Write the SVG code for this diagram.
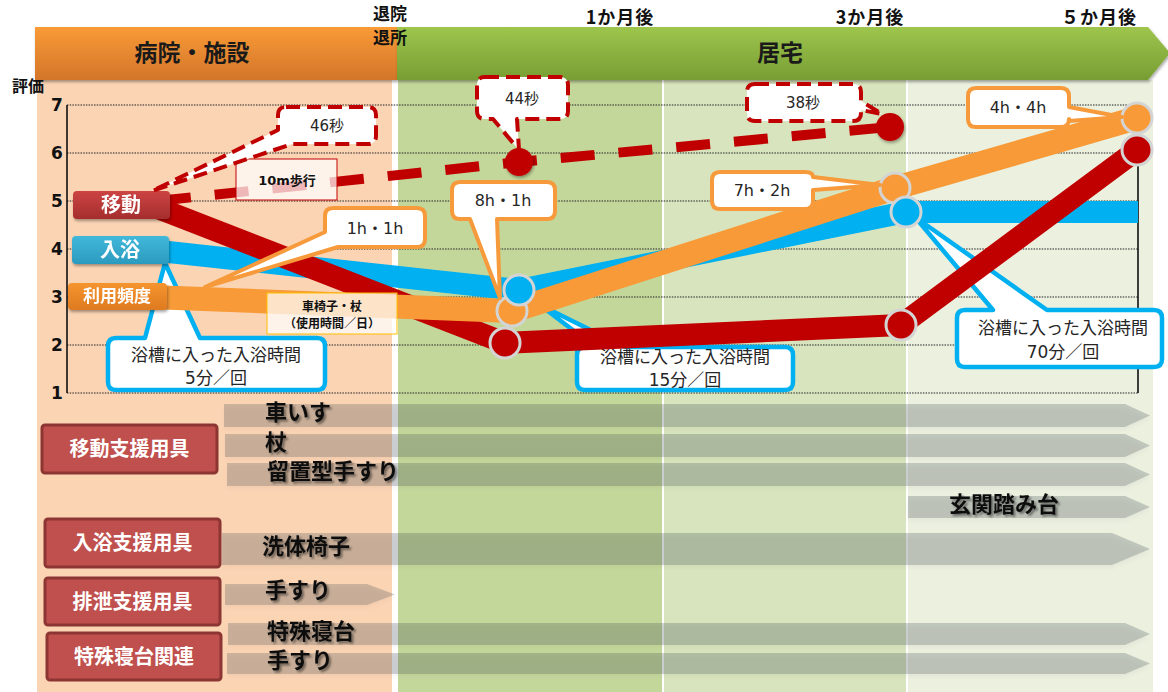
<svg xmlns="http://www.w3.org/2000/svg" width="1168" height="692" viewBox="0 0 1168 692">
<defs>
<linearGradient id="gOr" x1="0" y1="0" x2="0" y2="1"><stop offset="0" stop-color="#F99B36"/><stop offset="1" stop-color="#D3752A"/></linearGradient>
<linearGradient id="gGr" x1="0" y1="0" x2="0" y2="1"><stop offset="0" stop-color="#9EC54D"/><stop offset="1" stop-color="#779E33"/></linearGradient>
<linearGradient id="gRed" x1="0" y1="0" x2="0" y2="1"><stop offset="0" stop-color="#CC4443"/><stop offset="1" stop-color="#A52D2D"/></linearGradient>
<linearGradient id="gBlu" x1="0" y1="0" x2="0" y2="1"><stop offset="0" stop-color="#41B8DA"/><stop offset="1" stop-color="#2B9BBF"/></linearGradient>
<linearGradient id="gOr2" x1="0" y1="0" x2="0" y2="1"><stop offset="0" stop-color="#F5952F"/><stop offset="1" stop-color="#DE7A20"/></linearGradient>
<filter id="sh" x="-10%" y="-20%" width="120%" height="160%"><feDropShadow dx="1" dy="2" stdDeviation="1.5" flood-color="#000" flood-opacity="0.35"/></filter>
<filter id="tsh" x="-10%" y="-20%" width="130%" height="160%"><feDropShadow dx="2" dy="2" stdDeviation="1.2" flood-color="#000" flood-opacity="0.45"/></filter>
<filter id="ash" x="-2%" y="-30%" width="104%" height="180%"><feDropShadow dx="0" dy="3" stdDeviation="2" flood-color="#000" flood-opacity="0.15"/></filter>
<style>
.jp{font-family:"Noto Sans CJK JP","Noto Sans CJK SC",sans-serif}
.num{font-family:"DejaVu Sans","Noto Sans CJK JP",sans-serif}
.b{font-weight:bold}
.grid{stroke:#222;stroke-width:1;stroke-dasharray:1.5 1.2;fill:none}
.ax{stroke:#111;stroke-width:1.6;fill:none}
.yl{font-family:"DejaVu Sans",sans-serif;font-weight:bold;font-size:17px;fill:#111;text-anchor:middle}
.cob{fill:#fff;stroke:#00B0F0;stroke-width:4.5;stroke-linejoin:round}
.coo{fill:#fff;stroke:#F79A3B;stroke-width:4;stroke-linejoin:round}
.cor{fill:#fff;stroke:#C00000;stroke-width:4;stroke-dasharray:14 7;stroke-linejoin:round}
.ct{font-size:17px;fill:#262626;text-anchor:middle}
.ct2{font-size:16px;fill:#262626;text-anchor:middle}
.ct3{font-size:15px;fill:#262626;text-anchor:middle}
.ln{fill:none;stroke-linejoin:round;stroke-linecap:butt}
.cr{fill:#C00000;stroke:#D4D4D4;stroke-width:3}
.co{fill:#F79A37;stroke:#D4D4D4;stroke-width:3}
.cb{fill:#00B0F0;stroke:#D4D4D4;stroke-width:3}
.cat{fill:#C0504D;stroke:#8C3533;stroke-width:3}
.catt{font-size:20px;font-weight:bold;fill:#fff;text-anchor:middle}
.arr{fill:#334248;fill-opacity:0.23}
.at{font-size:22px;font-weight:bold;fill:#111}
.mt{font-size:18px;font-weight:bold;fill:#111;text-anchor:middle;letter-spacing:1px}
</style>
</defs>

<!-- background panels -->
<g id="panels">
<rect x="37" y="80" width="355" height="612" fill="#FBD4B4"/>
<rect x="398" y="80" width="264" height="612" fill="#C4D79B"/>
<rect x="664" y="80" width="242" height="612" fill="#D8E4BD"/>
<rect x="908" y="80" width="245" height="612" fill="#EBF0DF"/>
</g>

<!-- header -->
<g id="header">
<g id="hospital" filter="url(#sh)"><rect x="35" y="27" width="362" height="53" fill="url(#gOr)"/></g>
<text class="jp b" x="192" y="61" font-size="23" text-anchor="middle" fill="#1a1a1a">病院・施設</text>
<g id="home" filter="url(#sh)"><polygon points="397,27 1148,27 1170,53 1148,80 397,80" fill="url(#gGr)"/></g>
<text class="jp b" x="780" y="61" font-size="23" text-anchor="middle" fill="#1a1a1a">居宅</text>
<text class="jp b" x="390" y="20" font-size="17" text-anchor="middle" fill="#111">退院</text>
<text class="jp b" x="390" y="44" font-size="17" text-anchor="middle" fill="#111">退所</text>
<text class="jp mt" x="620" y="24">1か月後</text>
<text class="jp mt" x="870" y="24">3か月後</text>
<text class="jp mt" x="1099" y="24">５か月後</text>
<text class="jp b" x="28" y="92" font-size="16" text-anchor="middle" fill="#111">評価</text>
</g>

<!-- grid & axes -->
<g id="axes">
<path class="grid" d="M67,105H1138M67,153H1138M67,201H1138M67,249H1138M67,297H1138M67,345H1138M67,393H1138"/>
<path class="ax" d="M67,105V393M1138,105V393"/>
<text class="yl" x="57" y="111">7</text>
<text class="yl" x="57" y="159">6</text>
<text class="yl" x="57" y="207">5</text>
<text class="yl" x="57" y="255">4</text>
<text class="yl" x="57" y="303">3</text>
<text class="yl" x="57" y="351">2</text>
<text class="yl" x="57" y="399">1</text>
</g>

<!-- blue callouts (behind lines) -->
<g id="callout-bath5">
<path class="cob" d="M116,338H145L165,263L200,338H317Q325,338 325,346V382Q325,390 317,390H116Q108,390 108,382V346Q108,338 116,338Z"/>
<text class="num ct" x="216" y="361">浴槽に入った入浴時間</text>
<text class="num ct" x="216" y="384">5分／回</text>
</g>
<g id="callout-bath15">
<path class="cob" d="M585,347H595L540,305L625,347H785Q793,347 793,355V382Q793,390 785,390H585Q577,390 577,382V355Q577,347 585,347Z"/>
<text class="num ct" x="685" y="363">浴槽に入った入浴時間</text>
<text class="num ct" x="685" y="386">15分／回</text>
</g>
<g id="callout-bath70">
<path class="cob" d="M965,310H993L915,217L1047,310H1154Q1162,310 1162,318V359Q1162,367 1154,367H965Q957,367 957,359V318Q957,310 965,310Z"/>
<text class="num ct" x="1063" y="334">浴槽に入った入浴時間</text>
<text class="num ct" x="1063" y="358">70分／回</text>
</g>

<!-- connectors / data lines -->
<g id="connectors">
<polyline class="ln" points="150,250 519,290 906,212 1138,212" stroke="#00B0F0" stroke-width="22"/>
<polyline class="ln" points="150,205 505,343 901,325 1137,150" stroke="#C00000" stroke-width="22"/>
<polyline class="ln" points="150,297 512,311 895,188 1137,118" stroke="#F79A37" stroke-width="24"/>
<polyline class="ln" points="157,201 519,162 890,127" stroke="#C00000" stroke-width="10" stroke-dasharray="34 24"/>
</g>

<!-- points -->
<g id="points">
<circle class="co" cx="512" cy="311" r="15"/>
<circle class="co" cx="895" cy="188" r="15"/>
<circle class="co" cx="1137" cy="118" r="15"/>
<circle class="cr" cx="505" cy="343" r="15"/>
<circle class="cr" cx="901" cy="325" r="15"/>
<circle class="cr" cx="1137" cy="150" r="15"/>
<circle class="cb" cx="519" cy="290" r="15"/>
<circle class="cb" cx="906" cy="212" r="15"/>
<g filter="url(#sh)">
<circle cx="519" cy="162" r="14" fill="#C00000"/>
<circle cx="890" cy="127" r="14" fill="#C00000"/>
</g>
</g>

<!-- series labels -->
<g id="label-move" filter="url(#sh)">
<rect x="73" y="191" width="97" height="28" rx="4" fill="url(#gRed)"/>
<text class="jp b" x="121" y="212" font-size="20" text-anchor="middle" fill="#fff">移動</text>
</g>
<g id="label-bath" filter="url(#sh)">
<rect x="72" y="236" width="97" height="28" rx="4" fill="url(#gBlu)"/>
<text class="jp b" x="120" y="257" font-size="20" text-anchor="middle" fill="#fff">入浴</text>
</g>
<g id="label-freq" filter="url(#sh)">
<rect x="68" y="283" width="99" height="27" rx="4" fill="url(#gOr2)"/>
<text class="jp b" x="117" y="302" font-size="17" text-anchor="middle" fill="#fff">利用頻度</text>
</g>
<g id="label-10m">
<rect x="236" y="159" width="101" height="41" fill="#fff" fill-opacity="0.72" stroke="#C00000" stroke-width="1"/>
<text class="num b" x="287" y="185" font-size="13" text-anchor="middle" fill="#111">10m歩行</text>
</g>
<g id="label-wheelchair">
<rect x="267" y="293" width="130" height="41" fill="#fff" fill-opacity="0.72" stroke="#FFC000" stroke-width="1"/>
<text class="jp b" x="332" y="311" font-size="12" text-anchor="middle" fill="#111">車椅子・杖</text>
<text class="jp b" x="332" y="328" font-size="12" text-anchor="middle" fill="#111">（使用時間／日）</text>
</g>

<!-- orange callouts -->
<g id="callout-1h">
<path class="coo" d="M333,208H417Q425,208 425,216V239Q425,247 417,247H338L205,287L325,232V216Q325,208 333,208Z"/>
<text class="num ct2" x="375" y="234">1h・1h</text>
</g>
<g id="callout-8h">
<path class="coo" d="M460,182H547Q555,182 555,190V211Q555,219 547,219H497L500,298L470,219H460Q452,219 452,211V190Q452,182 460,182Z"/>
<text class="num ct2" x="503" y="206">8h・1h</text>
</g>
<g id="callout-7h">
<path class="coo" d="M720,172H805Q813,172 813,177L880,185L813,190V201Q813,209 805,209H720Q712,209 712,201V180Q712,172 720,172Z"/>
<text class="num ct2" x="762" y="196">7h・2h</text>
</g>
<g id="callout-4h">
<path class="coo" d="M976,88H1061Q1069,88 1069,96V107L1122,117L1069,121V119Q1069,127 1061,127H976Q968,127 968,119V96Q968,88 976,88Z"/>
<text class="num ct2" x="1018" y="113">4h・4h</text>
</g>

<!-- red dashed callouts -->
<g id="callout-46">
<path class="cor" d="M286,107H368Q376,107 376,115V136Q376,144 368,144H292L152,191L278,130V115Q278,107 286,107Z"/>
<text class="num ct3" x="327" y="131">46秒</text>
</g>
<g id="callout-44">
<path class="cor" d="M485,77H560Q568,77 568,85V111Q568,119 560,119H517L519,150L493,119H485Q477,119 477,111V85Q477,77 485,77Z"/>
<text class="num ct3" x="522" y="104">44秒</text>
</g>
<g id="callout-38">
<path class="cor" d="M755,84H853Q861,84 861,92V101L882,114L861,110V113Q861,121 853,121H755Q747,121 747,113V92Q747,84 755,84Z"/>
<text class="num ct3" x="803" y="108">38秒</text>
</g>

<!-- bottom: equipment arrows -->
<g id="equipment-arrows" filter="url(#ash)">
<polygon class="arr" points="224,404 1125,404 1150,415.5 1125,427 224,427"/>
<polygon class="arr" points="225,434 1125,434 1150,445.5 1125,457 225,457"/>
<polygon class="arr" points="227,463 1125,463 1150,474.5 1125,486 227,486"/>
<polygon class="arr" points="908,496 1125,496 1150,507 1125,518 908,518"/>
<polygon class="arr" points="222,533 1112,533 1150,549 1112,565 222,565"/>
<polygon class="arr" points="225,584 367,584 395,594.5 367,605 225,605"/>
<polygon class="arr" points="228,623 1125,623 1150,634 1125,645 228,645"/>
<polygon class="arr" points="227,653 1125,653 1150,663.5 1125,674 227,674"/>
</g>
<g id="equipment-labels" filter="url(#tsh)">
<text class="jp at" x="265" y="420">車いす</text>
<text class="jp at" x="265" y="450">杖</text>
<text class="jp at" x="267" y="479">留置型手すり</text>
<text class="jp at" x="949" y="512">玄関踏み台</text>
<text class="jp at" x="262" y="554">洗体椅子</text>
<text class="jp at" x="265" y="598">手すり</text>
<text class="jp at" x="267" y="639" font-size="21">特殊寝台</text>
<text class="jp at" x="267" y="668" font-size="21">手すり</text>
</g>

<!-- categories -->
<g id="cat-move"><rect class="cat" x="42" y="425" width="175" height="48" rx="3"/><text class="jp catt" x="129.5" y="456">移動支援用具</text></g>
<g id="cat-bath"><rect class="cat" x="45" y="519" width="175" height="48" rx="3"/><text class="jp catt" x="132.5" y="550">入浴支援用具</text></g>
<g id="cat-excr"><rect class="cat" x="45" y="578" width="175" height="47" rx="3"/><text class="jp catt" x="132.5" y="608.5">排泄支援用具</text></g>
<g id="cat-bed"><rect class="cat" x="47" y="633" width="174" height="47" rx="3"/><text class="jp catt" x="134" y="663.5">特殊寝台関連</text></g>
</svg>
